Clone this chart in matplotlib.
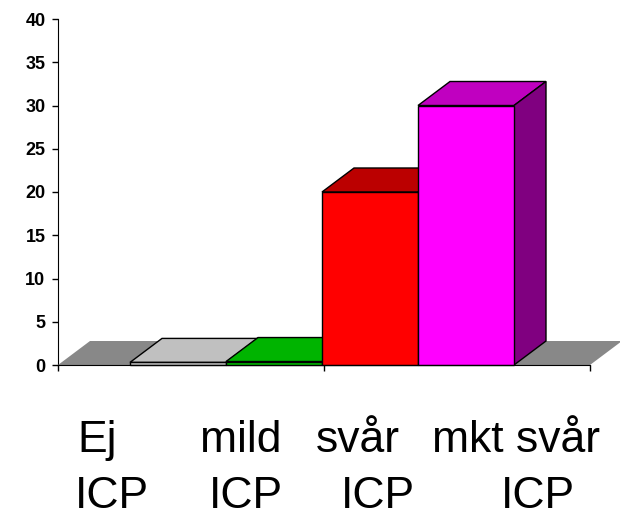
import matplotlib
matplotlib.use("Agg")
import matplotlib.pyplot as plt
from matplotlib.patches import Polygon

plt.rcParams['font.family'] = ['Liberation Sans', 'DejaVu Sans']

# ICP-grupper, en stapel per grupp
grupper = ["Ej ICP", "mild ICP", "svår ICP", "mkt svår ICP"]
varden = [0.3, 0.4, 20, 30]
farg_fram = ["#c0c0c0", "#00c000", "#ff0000", "#ff00ff"]
farg_topp = ["#c0c0c0", "#00b400", "#bb0000", "#c000c0"]
farg_sida = ["#909090", "#008000", "#800000", "#800080"]
yticks = [0, 5, 10, 15, 20, 25, 30, 35, 40]

# etiketter under diagrammet (ord, x i pixlar, baslinje i pixlar)
etiketter = [("Ej", 77.5, 452), ("mild", 200, 452), ("svår", 316, 452), ("mkt svår", 432, 452),
             ("ICP", 75, 508), ("ICP", 209, 508), ("ICP", 341, 508), ("ICP", 501, 508)]

W, H = 620, 512
fig = plt.figure(figsize=(W / 100, H / 100), dpi=100)
ax = fig.add_axes([58 / W, 147 / H, 532 / W, 346 / H])

xmax = 532 / 96
ax.set_xlim(0, xmax)
ax.set_ylim(0, 40)

# djup i dataenheter (snett bakåt uppåt höger)
dx = 32 / 96
dy = 24 / (346 / 40)

def poly(pts, fc, ec="black", lw=1.0, z=2):
    p = Polygon(pts, closed=True, facecolor=fc, edgecolor=ec, linewidth=lw,
                clip_on=False, zorder=z, joinstyle="miter")
    ax.add_patch(p)

# golv
poly([(0, 0), (xmax, 0), (xmax + dx, dy), (dx, dy)], "#888888", ec="none", z=1)

start = 0.75
bredd = 1.0
for i, v in enumerate(varden):
    x0 = start + i * bredd
    x1 = x0 + bredd
    # topp
    poly([(x0, v), (x1, v), (x1 + dx, v + dy), (x0 + dx, v + dy)], farg_topp[i])
    # sida
    poly([(x1, 0), (x1 + dx, dy), (x1 + dx, v + dy), (x1, v)], farg_sida[i])
    # framsida
    poly([(x0, 0), (x1, 0), (x1, v), (x0, v)], farg_fram[i])

ax.spines['top'].set_visible(False)
ax.spines['right'].set_visible(False)
ax.spines['left'].set_zorder(0.5)
ax.spines['bottom'].set_zorder(5)
ax.set_yticks(yticks)
ax.set_xticks([0, xmax / 2, xmax])
ax.set_xticklabels([])
ax.tick_params(axis='both', direction='out', length=4, width=1, colors='black')
ax.tick_params(axis='y', pad=5, labelsize=13)
for t in ax.get_yticklabels():
    t.set_fontweight('bold')
ax.patch.set_visible(False)

for txt, px, py in etiketter:
    fig.text(px / W, 1 - py / H, txt, fontsize=32, ha='left', va='baseline')

fig.savefig("out.png", dpi=100)
